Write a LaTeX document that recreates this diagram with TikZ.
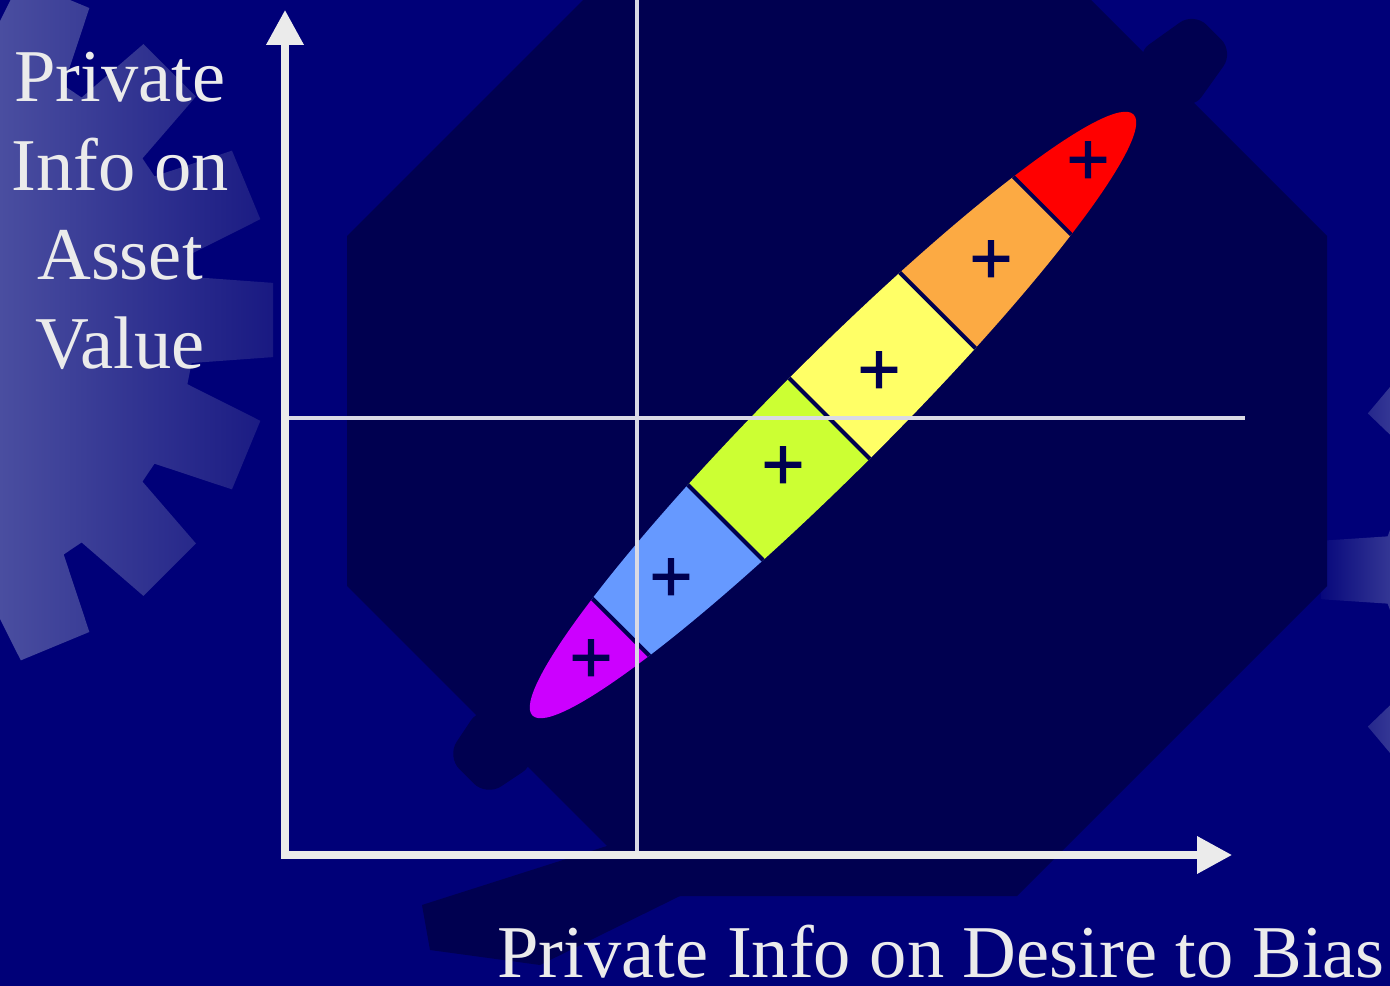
\documentclass[tikz,border=0pt]{standalone}
\usepackage{fontspec}
\setmainfont{Liberation Serif}
\newfontfamily\plusfont[FakeBold=1.5]{Liberation Sans}
\usetikzlibrary{arrows.meta}

\definecolor{slidebg}{RGB}{0,0,120}
\definecolor{gearnavy}{RGB}{0,0,80}
\definecolor{gearpale}{RGB}{74,78,160}
\definecolor{gearfade}{RGB}{22,22,128}
\definecolor{axisgray}{RGB}{235,235,235}
\definecolor{guidegray}{RGB}{218,218,228}
\definecolor{bandviolet}{RGB}{204,0,255}
\definecolor{bandblue}{RGB}{102,153,255}
\definecolor{bandlime}{RGB}{204,255,51}
\definecolor{bandyellow}{RGB}{255,255,102}
\definecolor{bandorange}{RGB}{252,170,67}
\definecolor{bandred}{RGB}{255,0,0}

\tikzset{
  axisarrow/.style={draw=axisgray, line width=4pt, -{Triangle[length=0.7cm,width=0.72cm]}},
  guideline/.style={draw=guidegray, line width=2pt},
  axislabel/.style={text=axisgray, font=\fontsize{42.4}{50.7}\selectfont, inner sep=0pt},
  plussign/.style={text=gearnavy, font=\plusfont\fontsize{42}{42}\selectfont, inner sep=0pt},
  cutline/.style={draw=gearnavy, line width=2.3pt}
}

\begin{document}
\begin{tikzpicture}[x=0.02cm, y=-0.02cm]
  \useasboundingbox (0,0) rectangle (1390,986);
  \fill[slidebg] (0,0) rectangle (1390,986);

  % background gears
  \begin{scope}
    \clip[shift={(-80,320)}] (-9:275) \foreach \a in {0,22.5,...,337.5} { -- (\a-9:275) -- (\a-6:355) -- (\a+6:355) -- (\a+9:275) } -- cycle;
    \shade[left color=gearpale, right color=gearfade] (0,0) rectangle (290,986);
  \end{scope}
  \begin{scope}
    \clip[shift={(1600,570)}] (171:215) \foreach \a in {0,40,...,320} { -- (\a+171:215) -- (\a+174:280) -- (\a+186:280) -- (\a+189:215) } -- cycle;
    \shade[left color=slidebg, right color=gearpale!70!slidebg] (1310,0) rectangle (1390,986);
  \end{scope}
  \fill[gearnavy] (347,236) -- (657,-74) -- (1017,-74) -- (1327,236) -- (1327,586)
    -- (1017,896) -- (657,896) -- (347,586) -- cycle;
  \fill[gearnavy, shift={(1170,76)}, rotate=45, rounded corners=10pt]
    (-10,-40) -- (62,-28) -- (62,28) -- (-10,40) -- cycle;
  \fill[gearnavy, shift={(502,741)}, rotate=225, rounded corners=10pt]
    (-10,-40) -- (50,-28) -- (50,28) -- (-10,40) -- cycle;
  \fill[gearnavy] (610,845) -- (422,905) -- (430,950) -- (540,965) -- (680,896) -- cycle;

  % banded ellipse
  \begin{scope}[shift={(833,415)}, rotate=45]
    \clip (0,0) ellipse [x radius=425, y radius=57];
    \foreach \from/\to/\col in {-430/-300/bandviolet, -300/-152/bandblue, -152/-5/bandlime,
        -5/148/bandyellow, 148/296/bandorange, 296/430/bandred}
      \fill[\col] (\from,-60) rectangle (\to,60);
    \foreach \s in {-300,-152,-5,148,296}
      \draw[cutline] (\s,-60) -- (\s,60);
  \end{scope}

  \coordinate (O) at (285,855);
  \coordinate (ytip) at (285,10);
  \coordinate (xtip) at (1232,855);
  \coordinate (vtop) at (637,0);
  \coordinate (vbot) at (637,851);
  \coordinate (hleft) at (288,418);
  \coordinate (hright) at (1245,418);

  \draw[guideline] (vtop) -- (vbot);
  \draw[guideline] (hleft) -- (hright);
  \draw[axisarrow] ([yshift=-2pt]O) -- (ytip);
  \draw[axisarrow] ([xshift=-2pt]O) -- (xtip);

  \foreach \x/\y [count=\i] in {591/661, 671/580, 783/468, 879/373, 991/262, 1088/163}
    \node[plussign] (p\i) at (\x,\y) {+};

  \node[axislabel, align=center, anchor=north] (ylabel) at (120,52) {Private\\Info on\\Asset\\Value};
  \node[axislabel, anchor=base west] (xlabel) at (497,977) {Private Info on Desire to Bias};
\end{tikzpicture}
\end{document}
